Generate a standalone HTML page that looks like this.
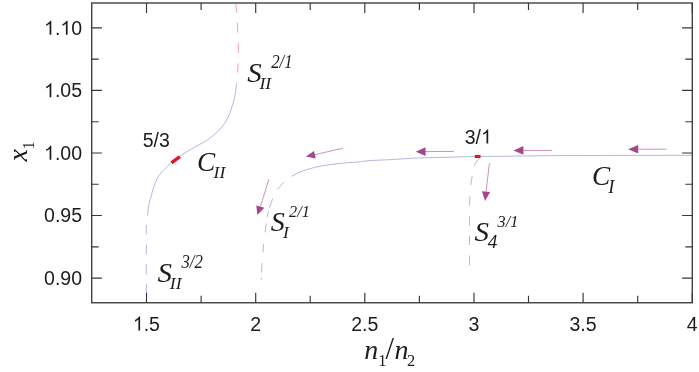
<!DOCTYPE html>
<html><head><meta charset="utf-8">
<style>
html,body{margin:0;padding:0;background:#fff;overflow:hidden;}
svg{display:block;will-change:transform;}
.t{font-family:"Liberation Sans",sans-serif;font-size:19.5px;fill:#1c1c1c;}
.i{font-family:"Liberation Serif",serif;font-style:italic;fill:#1c1c1c;}
.b{font-size:27.3px;}
.s{font-size:17.6px;}
.p{font-size:17.9px;}
.ax{stroke:#424242;stroke-width:1.4;fill:none;}
.tk{stroke:#363636;stroke-width:1.15;fill:none;}
.cv{stroke:#5a60bc;stroke-width:0.45;fill:none;}
.pk{stroke:#ee6670;stroke-width:0.6;fill:none;}
.al{stroke:#b8549a;stroke-width:0.65;fill:none;}
.ah{fill:#a4468a;stroke:none;}
</style></head><body>
<svg width="699" height="372" viewBox="0 0 699 372">
<rect width="699" height="372" fill="#fff"/>
<!-- frame -->
<rect class="ax" x="91.7" y="3" width="600.6" height="299.75"/>
<g class="tk">
<path d="M91.7 27.85h10.2M91.7 90.4h10.2M91.7 152.95h10.2M91.7 215.5h10.2M91.7 278.05h10.2M91.7 59.1h7M91.7 121.7h7M91.7 184.2h7M91.7 246.8h7"/>
<path d="M692.3 27.85h-10.2M692.3 90.4h-10.2M692.3 152.95h-10.2M692.3 215.5h-10.2M692.3 278.05h-10.2M692.3 59.1h-7M692.3 121.7h-7M692.3 184.2h-7M692.3 246.8h-7"/>
<path d="M146.5 2.9v10M255.7 2.9v10M364.8 2.9v10M474.0 2.9v10M583.1 2.9v10M692.3 2.9v10M201.1 2.9v7M310.2 2.9v7M419.4 2.9v7M528.5 2.9v7M637.7 2.9v7"/>
<path d="M146.5 302.75v-10M255.7 302.75v-10M364.8 302.75v-10M474.0 302.75v-10M583.1 302.75v-10M692.3 302.75v-10M201.1 302.75v-7M310.2 302.75v-7M419.4 302.75v-7M528.5 302.75v-7M637.7 302.75v-7"/>
</g>
<!-- tick labels -->
<g class="t" text-anchor="end">
<text x="82" y="34.7">0</text><text text-anchor="start" x="54.89" y="34.7">.</text><path fill="#1c1c1c" transform="translate(44.05 34.70) scale(0.00952 -0.00952)" d="M763 0H583V1147Q518 1085 412.5 1023T223 930V1104Q374 1175 487 1276T647 1472H763Z"/><path fill="#1c1c1c" transform="translate(60.32 34.70) scale(0.00952 -0.00952)" d="M763 0H583V1147Q518 1085 412.5 1023T223 930V1104Q374 1175 487 1276T647 1472H763Z"/>
<text x="82" y="97.2">.05</text><path fill="#1c1c1c" transform="translate(44.05 97.20) scale(0.00952 -0.00952)" d="M763 0H583V1147Q518 1085 412.5 1023T223 930V1104Q374 1175 487 1276T647 1472H763Z"/>
<text x="82" y="159.8">.00</text><path fill="#1c1c1c" transform="translate(44.05 159.80) scale(0.00952 -0.00952)" d="M763 0H583V1147Q518 1085 412.5 1023T223 930V1104Q374 1175 487 1276T647 1472H763Z"/>
<text x="82" y="222.3">0.95</text>
<text x="82" y="284.9">0.90</text>
</g>
<g class="t" text-anchor="middle">
<text x="255.6" y="330.5">2</text>
<text x="364.7" y="330.5">2.5</text>
<text x="473.9" y="330.5">3</text>
<text x="583" y="330.5">3.5</text>
<text x="692.2" y="330.5">4</text>
</g>
<g class="t"><path fill="#1c1c1c" transform="translate(132.85 330.50) scale(0.00952 -0.00952)" d="M763 0H583V1147Q518 1085 412.5 1023T223 930V1104Q374 1175 487 1276T647 1472H763Z"/><text x="143.69" y="330.5">.5</text></g>
<!-- curves -->
<path class="cv" d="M146.3 225V234.7M146.3 244.5V254.2M146.3 264.2V274.4M146.3 284.3V293"/>
<path class="cv" d="M147.5 215.5C147.6 214.4 147.9 211.2 148.2 208.9C148.5 206.7 149.0 204.2 149.5 202.0C150.0 199.8 150.6 198.2 151.2 196.0C151.8 193.8 152.6 190.8 153.3 188.5C154.0 186.2 154.7 184.4 155.5 182.5C156.3 180.6 157.1 178.6 158.1 176.9C159.1 175.2 160.2 173.7 161.5 172.2C162.8 170.7 164.3 169.4 165.8 167.9C167.3 166.4 168.8 164.8 170.4 163.4C172.0 162.0 173.8 160.7 175.5 159.4C177.2 158.1 178.8 157.0 180.5 155.8C182.2 154.6 183.5 153.8 185.8 152.4C188.1 151.0 191.2 149.2 194.4 147.4C197.6 145.6 202.2 143.1 204.9 141.5C207.6 139.9 208.6 139.1 210.5 137.7C212.4 136.3 214.5 134.6 216.1 133.1C217.7 131.6 219.0 130.3 220.3 128.9C221.6 127.5 222.8 125.9 223.8 124.4C224.9 123.0 225.8 121.6 226.6 120.2C227.4 118.8 228.1 117.4 228.7 116.0C229.3 114.6 229.7 113.7 230.3 112.0C230.9 110.3 231.6 108.0 232.2 106.0C232.8 104.0 233.5 102.3 234.1 100.0C234.6 97.7 235.1 94.8 235.5 92.0C235.9 89.2 236.4 84.7 236.6 83.2"/>
<path class="pk" d="M237.6 72.6L238.2 63.3M238.3 52.9V42.7M237.8 32.7L237.3 22.6M236.8 12.8L235.7 3.4"/>
<path style="stroke:#e61423;stroke-width:3.3;fill:none" d="M171.45 162.85L179.9 156.7"/>
<!-- C_I -->
<path class="cv" d="M692.2 155.3C681.8 155.3 652.0 155.4 630.0 155.4C608.0 155.5 576.7 155.5 560.0 155.6C543.3 155.7 540.0 155.8 530.0 155.9C520.0 156.0 510.0 156.2 500.0 156.3C490.0 156.4 478.3 156.4 470.0 156.6C461.7 156.8 458.3 157.0 450.0 157.2C441.7 157.4 430.0 157.5 420.0 157.9C410.0 158.3 398.3 159.2 390.0 159.7C381.7 160.1 375.0 160.2 370.0 160.6C365.0 160.9 364.2 161.4 360.0 161.8C355.8 162.2 350.0 162.5 345.0 163.0C340.0 163.5 335.0 163.9 330.0 164.6C325.0 165.3 319.6 166.2 315.0 167.3C310.4 168.4 306.2 169.7 302.3 171.2C298.4 172.7 293.3 175.5 291.5 176.3"/>
<path class="cv" d="M283.8 182.2L277.2 189.6M272.7 198.7L269.5 207.8M268.4 211.2L267.2 217.2M266.2 223.5L265.1 232.4M263.6 244.1L262.9 252.7M262 263L261.5 272.5M261.3 277.7V279.9"/>
<rect x="474.8" y="154.9" width="5.7" height="3.1" fill="#e61423"/>
<path class="cv" d="M480.1 157.9C477.5 160 475.5 162.5 474.3 165.6M472.2 175.9L470.9 185M469.9 195.8L469.5 205.5M469.5 216.3V225.6M469.5 235.6V245M469.5 255.5V265.3"/>
<!-- arrows -->
<path class="al" d="M342.9 148.2L312 155.3"/><path class="ah" d="M305.9 156.6L314 151L315.8 158.6Z"/>
<path class="al" d="M268.9 179.1L260.4 206.7"/><path class="ah" d="M257.45 215.1L256.3 205.6L264.3 207.8Z"/>
<path class="al" d="M453.9 151.4L424 151.6"/><path class="ah" d="M415.8 151.7L425.5 147.3L425.6 156Z"/>
<path class="al" d="M552 150.4H522"/><path class="ah" d="M513.6 150.4L523.4 146.1V154.7Z"/>
<path class="al" d="M666.3 149.2H637"/><path class="ah" d="M628.2 149.2L638.2 144.9V153.5Z"/>
<path class="al" d="M489.4 163.2L486.1 191.6"/><path class="ah" d="M485.1 200.9L481.9 191.3L490.1 191.9Z"/>
<!-- labels -->
<g class="i">
<text class="b" transform="translate(247.2 82) scale(1.06 1)">S</text><text class="s" x="259.5" y="89">II</text><text class="p" transform="translate(271.2 67.7) scale(0.935 1)">2/1</text>
<text class="b" transform="translate(196.9 171) scale(1 1)">C</text><text class="s" x="213.6" y="178.4">II</text>
<text class="b" transform="translate(157.4 281.5) scale(1.06 1)">S</text><text class="s" x="169.8" y="288.5">II</text><text class="p" transform="translate(181.5 267.5) scale(0.935 1)">3/2</text>
<text class="b" style="font-size:26.5px" transform="translate(270.7 230.5) scale(1.06 1)">S</text><text class="s" x="283.1" y="237.7">I</text><text class="p" style="font-size:17.2px" transform="translate(289.1 216.8) scale(0.95 1)">2/1</text>
<text class="b" transform="translate(474.6 240.6) scale(1.06 1)">S</text><text class="s" style="font-size:19.2px" x="487.8" y="247.7">4</text><text class="p" style="font-size:17.6px" transform="translate(497.6 226.7) scale(0.92 1)">3/1</text>
<text class="b" transform="translate(591.9 184.6) scale(1 1)">C</text><text class="s" style="font-size:18.5px" x="608.2" y="192.8">I</text>
</g>
<text class="t" x="142.7" y="146.9">5/3</text>
<text class="t" x="464.7" y="143.6">3/</text><path fill="#1c1c1c" transform="translate(480.96 143.60) scale(0.00952 -0.00952)" d="M763 0H583V1147Q518 1085 412.5 1023T223 930V1104Q374 1175 487 1276T647 1472H763Z"/>
<!-- axis labels -->
<g class="i"><text font-size="28" x="364.2" y="359">n</text><text font-size="28" x="394.5" y="359">n</text></g>
<g style='font-family:"Liberation Serif",serif;fill:#1c1c1c'><text font-size="16.5" x="378.2" y="365.8">1</text><text font-size="30.5" x="385.4" y="359.3">/</text><text font-size="16.5" x="407.1" y="365.8">2</text></g>
<g transform="translate(27 161.5) rotate(-90)"><text class="i" font-size="28" x="0" y="0">x</text><text style='font-family:"Liberation Serif",serif;fill:#1c1c1c' font-size="16.5" x="11.9" y="7">1</text></g>
</svg>
</body></html>
